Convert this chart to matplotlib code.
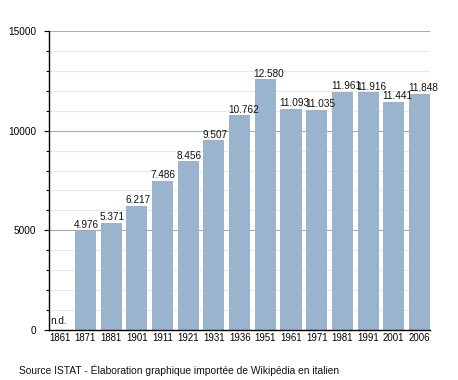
import numpy as np
import matplotlib
matplotlib.use('Agg')
import matplotlib.pyplot as plt
from matplotlib.ticker import MultipleLocator

plt.rcParams['font.family'] = ['Liberation Sans', 'DejaVu Sans']

years = ['1861', '1871', '1881', '1901', '1911', '1921', '1931', '1936',
         '1951', '1961', '1971', '1981', '1991', '2001', '2006']
population = [np.nan, 4976, 5371, 6217, 7486, 8456, 9507, 10762,
              12580, 11093, 11035, 11961, 11916, 11441, 11848]
value_labels = ['', '4.976', '5.371', '6.217', '7.486', '8.456', '9.507', '10.762',
                '12.580', '11.093', '11.035', '11.961', '11.916', '11.441', '11.848']

bar_color = '#9bb4ce'
bar_w = 0.82

fig = plt.figure(figsize=(4.58, 3.80), dpi=100)
ax = fig.add_axes([49 / 458, 50 / 380, 381 / 458, 299 / 380])

x = np.arange(len(years))
heights = np.nan_to_num(np.array(population, dtype=float))
ax.bar(x, heights, width=bar_w, color=bar_color, zorder=2)

# value labels, left aligned on the bar
for xi, h, lab in zip(x, heights, value_labels):
    if lab:
        ax.text(xi - bar_w / 2 - 0.04, h + 30, lab, ha='left', va='bottom',
                fontsize=7.2, color='#111111', zorder=3)
ax.text(-0.36, 200, 'n.d.', ha='left', va='bottom', fontsize=7.2, color='#111111')

ax.set_xlim(-0.42, len(years) - 1 + bar_w / 2)
ax.set_ylim(0, 15000)
ax.set_xticks(x)
ax.set_xticklabels(years, fontsize=6.9)
ax.yaxis.set_major_locator(MultipleLocator(5000))
ax.yaxis.set_minor_locator(MultipleLocator(1000))
ax.tick_params(axis='y', which='major', labelsize=7.2, length=3.6, width=0.8, pad=5.8)
ax.tick_params(axis='y', which='minor', length=2.5, width=0.8)
ax.tick_params(axis='x', length=0, pad=2)

ax.grid(axis='y', which='major', color='#aaaaaa', lw=0.8, zorder=0)
ax.grid(axis='y', which='minor', color='#e8e8e8', lw=0.8, zorder=0)
ax.set_axisbelow(True)

for s in ['top', 'right']:
    ax.spines[s].set_visible(False)
ax.spines['left'].set_linewidth(1.0)
ax.spines['bottom'].set_linewidth(1.0)

fig.text(19 / 458, 1 - 370 / 380, 'Source ISTAT - Élaboration graphique importée de Wikipédia en italien',
         ha='left', va='center', fontsize=7.4, color='#111111')

fig.savefig('out.png', dpi=100)
